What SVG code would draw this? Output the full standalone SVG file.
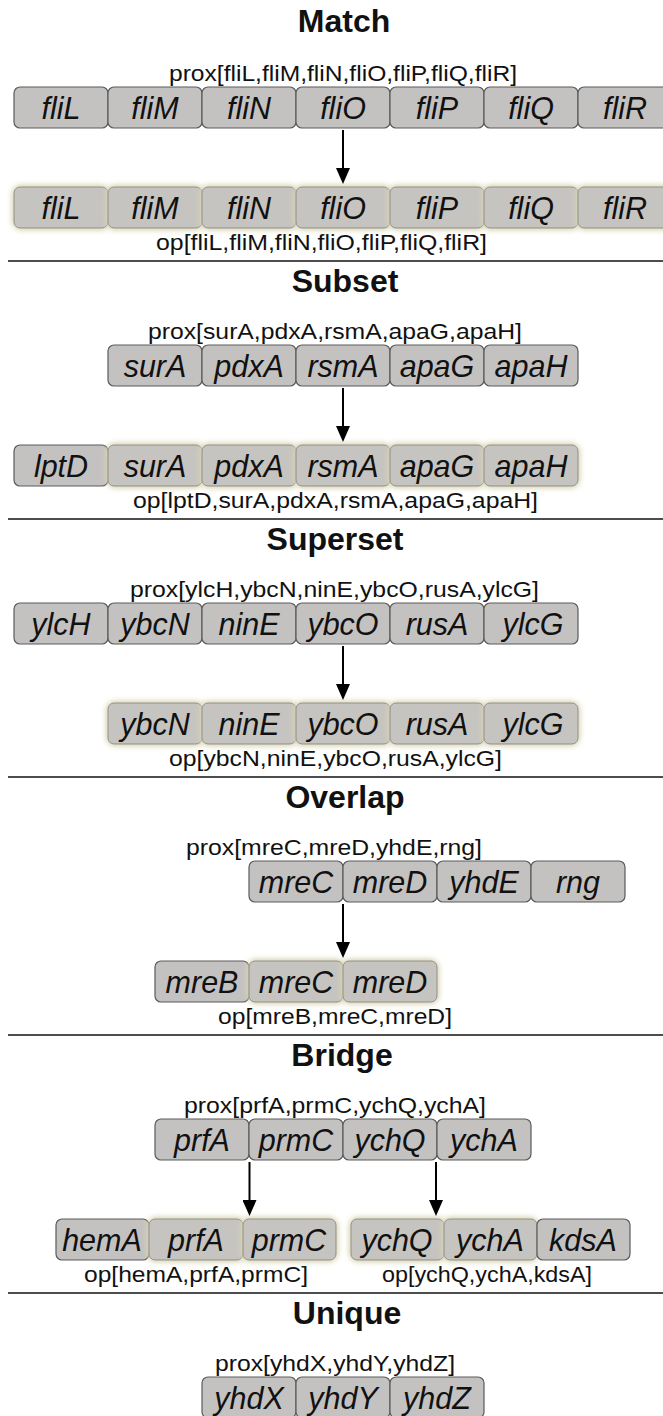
<svg xmlns="http://www.w3.org/2000/svg" width="663" height="1416" viewBox="0 0 663 1416">
  <style>
    .title { font-family: "Liberation Sans", Arial, sans-serif; font-weight: bold; font-size: 32px; fill: #111; text-anchor: middle; }
    .lbl { font-family: "Liberation Sans", Arial, sans-serif; font-size: 22px; fill: #111; }
    .gene { font-family: "Liberation Sans", Arial, sans-serif; font-style: italic; font-size: 30.5px; fill: #111; text-anchor: middle; }
    .box { fill: #c4c2c1; stroke: #5a5a5a; stroke-width: 1.2; }
    .gbox { fill: #c6c4c0; stroke: #8f8d86; stroke-width: 1; filter: url(#glow); }
    .sep { stroke: #4d4d4d; stroke-width: 2; }
    .arrow { stroke: #000; stroke-width: 2; marker-end: url(#ah); }
  </style>
  <defs>
    <filter id="glow" x="-15%" y="-35%" width="130%" height="170%">
      <feGaussianBlur in="SourceAlpha" stdDeviation="3" result="b"/>
      <feFlood flood-color="#d8d4b4"/>
      <feComposite in2="b" operator="in" result="halo"/>
      <feMerge>
        <feMergeNode in="halo"/>
        <feMergeNode in="halo"/>
        <feMergeNode in="SourceGraphic"/>
      </feMerge>
    </filter>
    <marker id="ah" viewBox="0 0 16 14" refX="10" refY="7" markerWidth="16" markerHeight="14" orient="auto" markerUnits="userSpaceOnUse">
      <path d="M0,0 L16,7 L0,14 z" fill="#000"/>
    </marker>
  </defs>

  <rect width="663" height="1416" fill="#fff"/>

  <!-- section headings -->
  <g id="titles">
    <text class="title" x="344" y="32">Match</text>
    <text class="title" x="345" y="292">Subset</text>
    <text class="title" x="335" y="550">Superset</text>
    <text class="title" x="345" y="808">Overlap</text>
    <text class="title" x="342" y="1066">Bridge</text>
    <text class="title" x="347" y="1324">Unique</text>
  </g>

  <!-- proximity / operon labels -->
  <g id="labels">
    <text class="lbl" x="169" y="81" textLength="348" lengthAdjust="spacingAndGlyphs">prox[fliL,fliM,fliN,fliO,fliP,fliQ,fliR]</text>
    <text class="lbl" x="156" y="250" textLength="331" lengthAdjust="spacingAndGlyphs">op[fliL,fliM,fliN,fliO,fliP,fliQ,fliR]</text>
    <text class="lbl" x="148" y="339" textLength="374" lengthAdjust="spacingAndGlyphs">prox[surA,pdxA,rsmA,apaG,apaH]</text>
    <text class="lbl" x="133" y="508" textLength="405" lengthAdjust="spacingAndGlyphs">op[lptD,surA,pdxA,rsmA,apaG,apaH]</text>
    <text class="lbl" x="130" y="597" textLength="409" lengthAdjust="spacingAndGlyphs">prox[ylcH,ybcN,ninE,ybcO,rusA,ylcG]</text>
    <text class="lbl" x="169" y="766" textLength="333" lengthAdjust="spacingAndGlyphs">op[ybcN,ninE,ybcO,rusA,ylcG]</text>
    <text class="lbl" x="186" y="855" textLength="296" lengthAdjust="spacingAndGlyphs">prox[mreC,mreD,yhdE,rng]</text>
    <text class="lbl" x="218" y="1024" textLength="234" lengthAdjust="spacingAndGlyphs">op[mreB,mreC,mreD]</text>
    <text class="lbl" x="184" y="1113" textLength="302" lengthAdjust="spacingAndGlyphs">prox[prfA,prmC,ychQ,ychA]</text>
    <text class="lbl" x="84" y="1282" textLength="224" lengthAdjust="spacingAndGlyphs">op[hemA,prfA,prmC]</text>
    <text class="lbl" x="382" y="1282" textLength="210" lengthAdjust="spacingAndGlyphs">op[ychQ,ychA,kdsA]</text>
    <text class="lbl" x="215" y="1371" textLength="240" lengthAdjust="spacingAndGlyphs">prox[yhdX,yhdY,yhdZ]</text>
  </g>

  <!-- section dividers -->
  <g id="dividers">
    <line class="sep" x1="8" y1="261" x2="663" y2="261"/>
    <line class="sep" x1="8" y1="519" x2="663" y2="519"/>
    <line class="sep" x1="8" y1="777" x2="663" y2="777"/>
    <line class="sep" x1="8" y1="1035" x2="663" y2="1035"/>
    <line class="sep" x1="8" y1="1293" x2="663" y2="1293"/>
  </g>

  <!-- Match -->
  <g id="match-prox-fliL"><rect class="box" x="14" y="87" width="94" height="41" rx="6"/><text class="gene" x="61" y="119">fliL</text></g>
  <g id="match-prox-fliM"><rect class="box" x="108" y="87" width="94" height="41" rx="6"/><text class="gene" x="155" y="119">fliM</text></g>
  <g id="match-prox-fliN"><rect class="box" x="202" y="87" width="94" height="41" rx="6"/><text class="gene" x="249" y="119">fliN</text></g>
  <g id="match-prox-fliO"><rect class="box" x="296" y="87" width="94" height="41" rx="6"/><text class="gene" x="343" y="119">fliO</text></g>
  <g id="match-prox-fliP"><rect class="box" x="390" y="87" width="94" height="41" rx="6"/><text class="gene" x="437" y="119">fliP</text></g>
  <g id="match-prox-fliQ"><rect class="box" x="484" y="87" width="94" height="41" rx="6"/><text class="gene" x="531" y="119">fliQ</text></g>
  <g id="match-prox-fliR"><rect class="box" x="578" y="87" width="94" height="41" rx="6"/><text class="gene" x="625" y="119">fliR</text></g>

  <g id="match-op-fliL"><rect class="gbox" x="14" y="187" width="94" height="41" rx="6"/><text class="gene" x="61" y="219">fliL</text></g>
  <g id="match-op-fliM"><rect class="gbox" x="108" y="187" width="94" height="41" rx="6"/><text class="gene" x="155" y="219">fliM</text></g>
  <g id="match-op-fliN"><rect class="gbox" x="202" y="187" width="94" height="41" rx="6"/><text class="gene" x="249" y="219">fliN</text></g>
  <g id="match-op-fliO"><rect class="gbox" x="296" y="187" width="94" height="41" rx="6"/><text class="gene" x="343" y="219">fliO</text></g>
  <g id="match-op-fliP"><rect class="gbox" x="390" y="187" width="94" height="41" rx="6"/><text class="gene" x="437" y="219">fliP</text></g>
  <g id="match-op-fliQ"><rect class="gbox" x="484" y="187" width="94" height="41" rx="6"/><text class="gene" x="531" y="219">fliQ</text></g>
  <g id="match-op-fliR"><rect class="gbox" x="578" y="187" width="94" height="41" rx="6"/><text class="gene" x="625" y="219">fliR</text></g>

  <!-- Subset -->
  <g id="subset-prox-surA"><rect class="box" x="108" y="345" width="94" height="41" rx="6"/><text class="gene" x="155" y="377">surA</text></g>
  <g id="subset-prox-pdxA"><rect class="box" x="202" y="345" width="94" height="41" rx="6"/><text class="gene" x="249" y="377">pdxA</text></g>
  <g id="subset-prox-rsmA"><rect class="box" x="296" y="345" width="94" height="41" rx="6"/><text class="gene" x="343" y="377">rsmA</text></g>
  <g id="subset-prox-apaG"><rect class="box" x="390" y="345" width="94" height="41" rx="6"/><text class="gene" x="437" y="377">apaG</text></g>
  <g id="subset-prox-apaH"><rect class="box" x="484" y="345" width="94" height="41" rx="6"/><text class="gene" x="531" y="377">apaH</text></g>

  <g id="subset-op-lptD"><rect class="box" x="14" y="445" width="94" height="41" rx="6"/><text class="gene" x="61" y="477">lptD</text></g>
  <g id="subset-op-surA"><rect class="gbox" x="108" y="445" width="94" height="41" rx="6"/><text class="gene" x="155" y="477">surA</text></g>
  <g id="subset-op-pdxA"><rect class="gbox" x="202" y="445" width="94" height="41" rx="6"/><text class="gene" x="249" y="477">pdxA</text></g>
  <g id="subset-op-rsmA"><rect class="gbox" x="296" y="445" width="94" height="41" rx="6"/><text class="gene" x="343" y="477">rsmA</text></g>
  <g id="subset-op-apaG"><rect class="gbox" x="390" y="445" width="94" height="41" rx="6"/><text class="gene" x="437" y="477">apaG</text></g>
  <g id="subset-op-apaH"><rect class="gbox" x="484" y="445" width="94" height="41" rx="6"/><text class="gene" x="531" y="477">apaH</text></g>

  <!-- Superset -->
  <g id="superset-prox-ylcH"><rect class="box" x="14" y="603" width="94" height="41" rx="6"/><text class="gene" x="61" y="635">ylcH</text></g>
  <g id="superset-prox-ybcN"><rect class="box" x="108" y="603" width="94" height="41" rx="6"/><text class="gene" x="155" y="635">ybcN</text></g>
  <g id="superset-prox-ninE"><rect class="box" x="202" y="603" width="94" height="41" rx="6"/><text class="gene" x="249" y="635">ninE</text></g>
  <g id="superset-prox-ybcO"><rect class="box" x="296" y="603" width="94" height="41" rx="6"/><text class="gene" x="343" y="635">ybcO</text></g>
  <g id="superset-prox-rusA"><rect class="box" x="390" y="603" width="94" height="41" rx="6"/><text class="gene" x="437" y="635">rusA</text></g>
  <g id="superset-prox-ylcG"><rect class="box" x="484" y="603" width="94" height="41" rx="6"/><text class="gene" x="533" y="635">ylcG</text></g>

  <g id="superset-op-ybcN"><rect class="gbox" x="108" y="703" width="94" height="41" rx="6"/><text class="gene" x="155" y="735">ybcN</text></g>
  <g id="superset-op-ninE"><rect class="gbox" x="202" y="703" width="94" height="41" rx="6"/><text class="gene" x="249" y="735">ninE</text></g>
  <g id="superset-op-ybcO"><rect class="gbox" x="296" y="703" width="94" height="41" rx="6"/><text class="gene" x="343" y="735">ybcO</text></g>
  <g id="superset-op-rusA"><rect class="gbox" x="390" y="703" width="94" height="41" rx="6"/><text class="gene" x="437" y="735">rusA</text></g>
  <g id="superset-op-ylcG"><rect class="gbox" x="484" y="703" width="94" height="41" rx="6"/><text class="gene" x="533" y="735">ylcG</text></g>

  <!-- Overlap -->
  <g id="overlap-prox-mreC"><rect class="box" x="249" y="861" width="94" height="41" rx="6"/><text class="gene" x="296" y="893">mreC</text></g>
  <g id="overlap-prox-mreD"><rect class="box" x="343" y="861" width="94" height="41" rx="6"/><text class="gene" x="390" y="893">mreD</text></g>
  <g id="overlap-prox-yhdE"><rect class="box" x="437" y="861" width="94" height="41" rx="6"/><text class="gene" x="484" y="893">yhdE</text></g>
  <g id="overlap-prox-rng"><rect class="box" x="531" y="861" width="94" height="41" rx="6"/><text class="gene" x="578" y="893">rng</text></g>

  <g id="overlap-op-mreB"><rect class="box" x="155" y="961" width="94" height="41" rx="6"/><text class="gene" x="202" y="993">mreB</text></g>
  <g id="overlap-op-mreC"><rect class="gbox" x="249" y="961" width="94" height="41" rx="6"/><text class="gene" x="296" y="993">mreC</text></g>
  <g id="overlap-op-mreD"><rect class="gbox" x="343" y="961" width="94" height="41" rx="6"/><text class="gene" x="390" y="993">mreD</text></g>

  <!-- Bridge -->
  <g id="bridge-prox-prfA"><rect class="box" x="155" y="1119" width="94" height="41" rx="6"/><text class="gene" x="202" y="1151">prfA</text></g>
  <g id="bridge-prox-prmC"><rect class="box" x="249" y="1119" width="94" height="41" rx="6"/><text class="gene" x="296" y="1151">prmC</text></g>
  <g id="bridge-prox-ychQ"><rect class="box" x="343" y="1119" width="94" height="41" rx="6"/><text class="gene" x="390" y="1151">ychQ</text></g>
  <g id="bridge-prox-ychA"><rect class="box" x="437" y="1119" width="94" height="41" rx="6"/><text class="gene" x="484" y="1151">ychA</text></g>

  <g id="bridge-op1-hemA"><rect class="box" x="56" y="1219" width="93" height="41" rx="6"/><text class="gene" x="102" y="1251">hemA</text></g>
  <g id="bridge-op1-prfA"><rect class="gbox" x="149" y="1219" width="94" height="41" rx="6"/><text class="gene" x="196" y="1251">prfA</text></g>
  <g id="bridge-op1-prmC"><rect class="gbox" x="243" y="1219" width="93" height="41" rx="6"/><text class="gene" x="289" y="1251">prmC</text></g>

  <g id="bridge-op2-ychQ"><rect class="gbox" x="351" y="1219" width="93" height="41" rx="6"/><text class="gene" x="397" y="1251">ychQ</text></g>
  <g id="bridge-op2-ychA"><rect class="gbox" x="444" y="1219" width="93" height="41" rx="6"/><text class="gene" x="490" y="1251">ychA</text></g>
  <g id="bridge-op2-kdsA"><rect class="box" x="537" y="1219" width="93" height="41" rx="6"/><text class="gene" x="583" y="1251">kdsA</text></g>

  <!-- Unique -->
  <g id="unique-prox-yhdX"><rect class="box" x="202" y="1377" width="94" height="41" rx="6"/><text class="gene" x="249" y="1409">yhdX</text></g>
  <g id="unique-prox-yhdY"><rect class="box" x="296" y="1377" width="94" height="41" rx="6"/><text class="gene" x="343" y="1409">yhdY</text></g>
  <g id="unique-prox-yhdZ"><rect class="box" x="390" y="1377" width="94" height="41" rx="6"/><text class="gene" x="437" y="1409">yhdZ</text></g>

  <!-- connectors -->
  <g id="connectors">
    <line class="arrow" x1="343" y1="130" x2="343" y2="178"/>
    <line class="arrow" x1="343" y1="388" x2="343" y2="436"/>
    <line class="arrow" x1="343" y1="646" x2="343" y2="694"/>
    <line class="arrow" x1="343" y1="904" x2="343" y2="952"/>
    <line class="arrow" x1="249.5" y1="1162" x2="249.5" y2="1210"/>
    <line class="arrow" x1="436" y1="1162" x2="436" y2="1210"/>
  </g>
</svg>
